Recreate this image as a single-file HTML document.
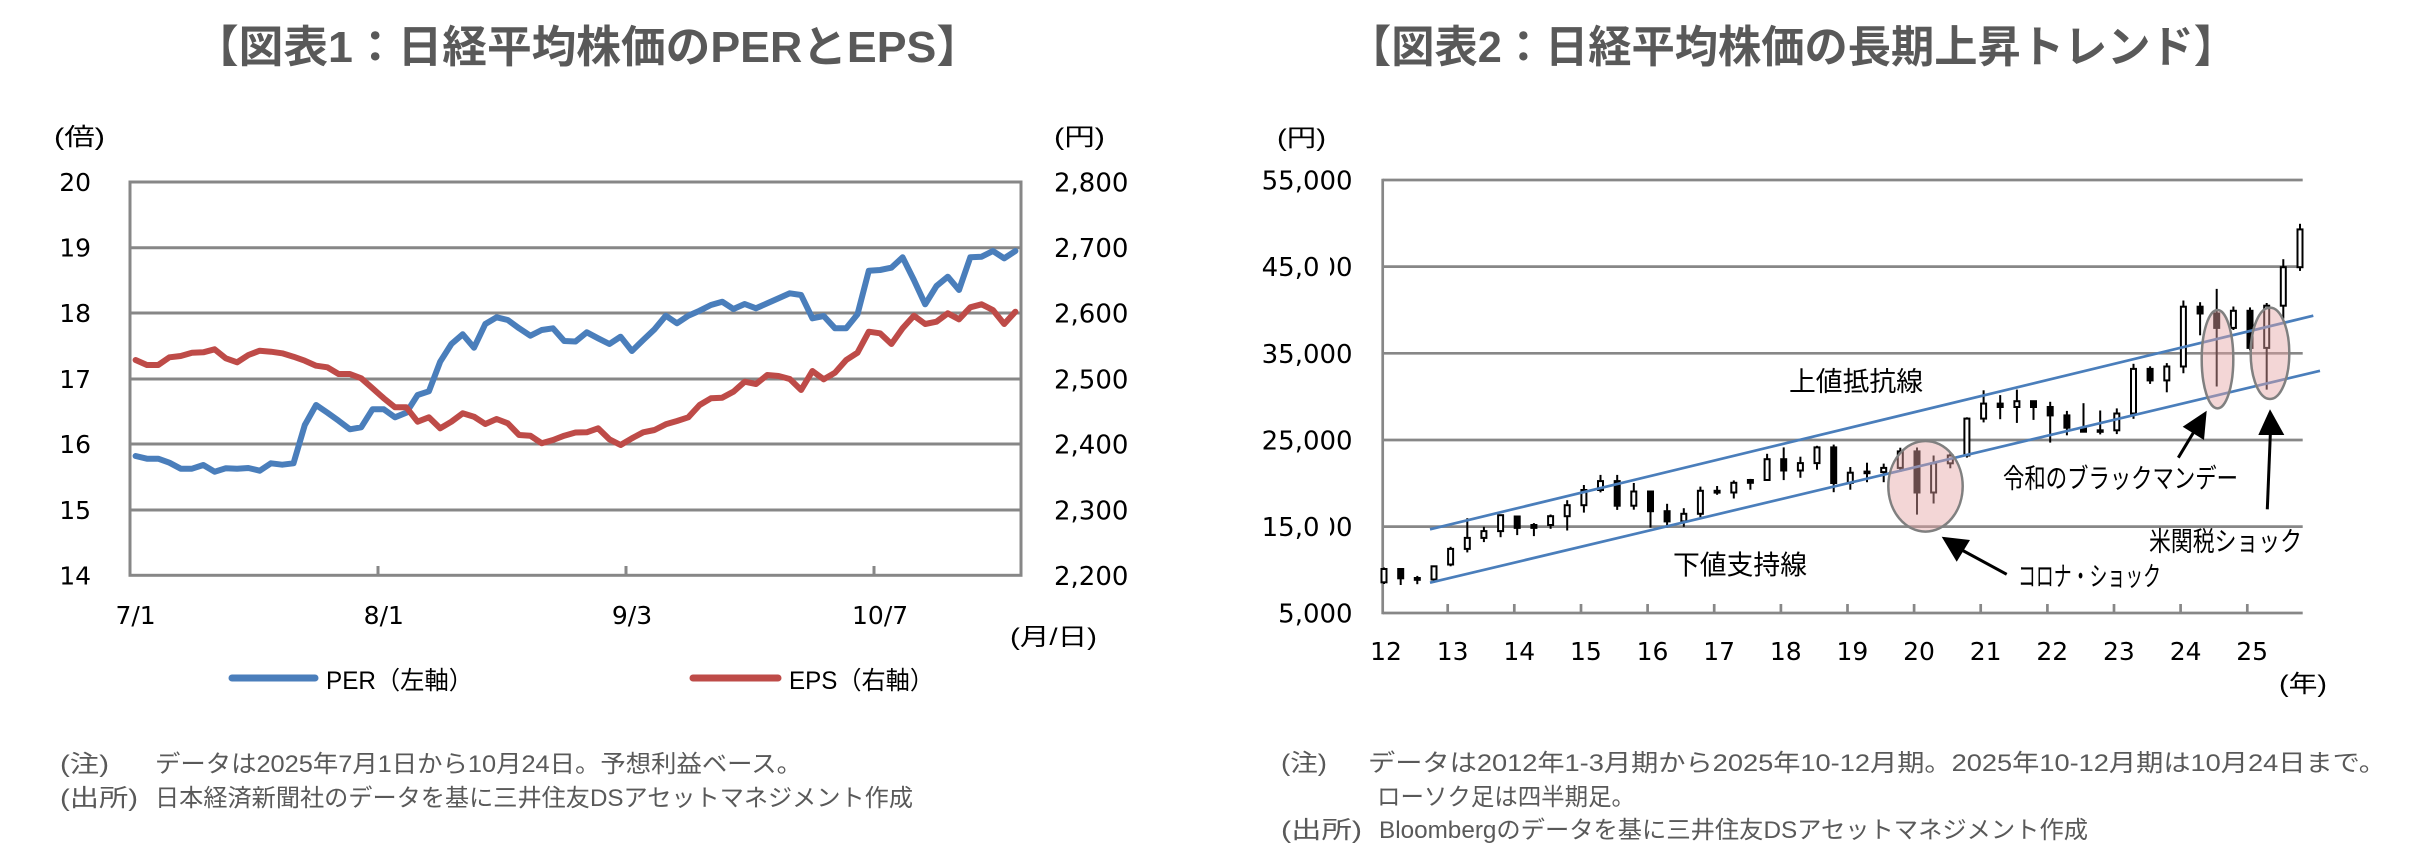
<!DOCTYPE html>
<html><head><meta charset="utf-8"><style>
html,body{margin:0;padding:0;background:#fff;overflow:hidden}
svg{display:block}
.num{font-family:"DejaVu Sans","Liberation Sans",sans-serif;fill:#000}
.jp{font-family:"Liberation Sans","Noto Sans CJK JP",sans-serif;fill:#000}
.note{font-family:"Liberation Sans","Noto Sans CJK JP",sans-serif;fill:#595959;font-size:24px}
.ttl{font-family:"Liberation Sans","Noto Sans CJK JP",sans-serif;fill:#595959;font-size:44px;font-weight:bold}
</style></head><body>
<svg width="2419" height="861" viewBox="0 0 2419 861" xmlns="http://www.w3.org/2000/svg">
<rect width="2419" height="861" fill="#fff"/>

<!-- Titles -->
<text class="ttl" x="194" y="62" textLength="787" lengthAdjust="spacingAndGlyphs">【図表1：日経平均株価のPERとEPS】</text>
<text class="ttl" x="1348" y="62" textLength="889" lengthAdjust="spacingAndGlyphs">【図表2：日経平均株価の長期上昇トレンド】</text>

<!-- ================= LEFT CHART ================= -->
<text class="jp" x="54" y="145" font-size="24" textLength="51" lengthAdjust="spacingAndGlyphs">(倍)</text>
<text class="jp" x="1054" y="145" font-size="24" textLength="51" lengthAdjust="spacingAndGlyphs">(円)</text>

<g stroke="#878787" stroke-width="3" fill="none">
<line x1="130" y1="247.7" x2="1021" y2="247.7"/>
<line x1="130" y1="313" x2="1021" y2="313"/>
<line x1="130" y1="379" x2="1021" y2="379"/>
<line x1="130" y1="444" x2="1021" y2="444"/>
<line x1="130" y1="510" x2="1021" y2="510"/>
<rect x="130" y="182" width="891" height="393.3"/>
<line x1="378" y1="566" x2="378" y2="575"/>
<line x1="626" y1="566" x2="626" y2="575"/>
<line x1="874" y1="566" x2="874" y2="575"/>
</g>

<g class="num" font-size="25" text-anchor="end">
<text x="91" y="191">20</text>
<text x="91" y="256.7">19</text>
<text x="91" y="322">18</text>
<text x="91" y="388">17</text>
<text x="91" y="453">16</text>
<text x="91" y="519">15</text>
<text x="91" y="584.3">14</text>
</g>
<g class="num" font-size="26">
<text x="1054" y="191.5">2,800</text>
<text x="1054" y="257">2,700</text>
<text x="1054" y="322.5">2,600</text>
<text x="1054" y="388.5">2,500</text>
<text x="1054" y="453.5">2,400</text>
<text x="1054" y="519.5">2,300</text>
<text x="1054" y="584.8">2,200</text>
</g>
<g class="num" font-size="25" text-anchor="middle">
<text x="135.6" y="624">7/1</text>
<text x="383.8" y="624">8/1</text>
<text x="632" y="624">9/3</text>
<text x="880.1" y="624">10/7</text>
</g>
<text class="jp" x="1010" y="645" font-size="24" textLength="87" lengthAdjust="spacingAndGlyphs">(月/日)</text>

<polyline fill="none" stroke="#4A7EBB" stroke-width="6" stroke-linejoin="round" stroke-linecap="round" points="135.6,456 146.9,458.7 158.2,458.7 169.4,462.7 180.7,468.7 192,468.7 203.3,465 214.6,471.7 225.8,468.3 237.1,468.7 248.4,468 259.7,470.7 271,463.3 282.2,464.7 293.5,463.3 304.8,425 316.1,405 327.4,412.7 338.6,420.7 349.9,429.3 361.2,427.3 372.5,409.3 383.8,409.3 395,417.3 406.3,412.7 417.6,395 428.9,391.3 440.2,361.7 451.4,344 462.7,334.3 474,347.7 485.3,324 496.6,317.3 507.8,320 519.1,328.3 530.4,335.7 541.7,330 553,328.3 564.2,341 575.5,341.5 586.8,332.3 598.1,338.3 609.4,344 620.6,336.7 631.9,351 643.2,340 654.5,329.3 665.8,315.7 677,323.3 688.3,315.7 699.6,310.7 710.9,305 722.2,301.7 733.4,309 744.7,304 756,308.3 767.3,303.3 778.6,298.3 789.8,293.3 801.1,295 812.4,318.3 823.7,316 835,328.3 846.2,328.3 857.5,314.3 868.8,270.7 880.1,270 891.4,267.7 902.6,257.3 913.9,280 925.2,304.3 936.5,286 947.8,276.7 959,290 970.3,257.3 981.6,256.7 992.9,251 1004.2,258.3 1015.4,251"/>
<polyline fill="none" stroke="#BE4B48" stroke-width="6" stroke-linejoin="round" stroke-linecap="round" points="135.6,360 146.9,365 158.2,365 169.4,357.3 180.7,356 192,352.7 203.3,352.3 214.6,349.3 225.8,358.3 237.1,362.3 248.4,355 259.7,350.7 271,351.7 282.2,353.3 293.5,356.7 304.8,360.7 316.1,365.7 327.4,367.3 338.6,374 349.9,374 361.2,378.3 372.5,388.3 383.8,398.3 395,407.3 406.3,407.3 417.6,421.7 428.9,417.3 440.2,428.3 451.4,421.7 462.7,413.3 474,416.7 485.3,424 496.6,419 507.8,423.3 519.1,435 530.4,435.7 541.7,443.3 553,440 564.2,435.7 575.5,432.5 586.8,432.3 598.1,428.3 609.4,439.3 620.6,445 631.9,438.3 643.2,432.3 654.5,430 665.8,424.3 677,421 688.3,417.3 699.6,405 710.9,398.3 722.2,397.7 733.4,391.7 744.7,381.7 756,384 767.3,375 778.6,376 789.8,379 801.1,390 812.4,371 823.7,379.3 835,372.7 846.2,360 857.5,352.7 868.8,331.7 880.1,333.3 891.4,344 902.6,328.3 913.9,315.7 925.2,324 936.5,321.7 947.8,313.3 959,319.3 970.3,307.3 981.6,304.3 992.9,310 1004.2,324 1015.4,311.7"/>

<!-- legend -->
<line x1="232" y1="678" x2="315" y2="678" stroke="#4A7EBB" stroke-width="7" stroke-linecap="round"/>
<text class="jp" x="326" y="689" font-size="25" textLength="147" lengthAdjust="spacingAndGlyphs">PER（左軸）</text>
<line x1="693" y1="678" x2="778" y2="678" stroke="#BE4B48" stroke-width="7" stroke-linecap="round"/>
<text class="jp" x="789" y="689" font-size="25" textLength="145" lengthAdjust="spacingAndGlyphs">EPS（右軸）</text>

<!-- notes left -->
<text class="note" x="60" y="772" textLength="49" lengthAdjust="spacingAndGlyphs">(注)</text>
<text class="note" x="155" y="772" textLength="647" lengthAdjust="spacingAndGlyphs">データは2025年7月1日から10月24日。予想利益ベース。</text>
<text class="note" x="60" y="806" textLength="78" lengthAdjust="spacingAndGlyphs">(出所)</text>
<text class="note" x="155" y="806" textLength="758" lengthAdjust="spacingAndGlyphs">日本経済新聞社のデータを基に三井住友DSアセットマネジメント作成</text>

<!-- ================= RIGHT CHART ================= -->
<text class="jp" x="1277" y="146" font-size="24" textLength="49" lengthAdjust="spacingAndGlyphs">(円)</text>

<g stroke="#878787" stroke-width="2.7" fill="none">
<line x1="1382.7" y1="180" x2="2302.7" y2="180"/>
<line x1="1382.7" y1="266.6" x2="2302.7" y2="266.6"/>
<line x1="1382.7" y1="353.3" x2="2302.7" y2="353.3"/>
<line x1="1382.7" y1="440" x2="2302.7" y2="440"/>
<line x1="1382.7" y1="526.6" x2="2302.7" y2="526.6"/>
<line x1="1382.7" y1="613" x2="2302.7" y2="613"/>
<line x1="1382.7" y1="178.7" x2="1382.7" y2="614.3"/>
<line x1="1447.7" y1="604" x2="1447.7" y2="613"/>
<line x1="1514.3" y1="604" x2="1514.3" y2="613"/>
<line x1="1581" y1="604" x2="1581" y2="613"/>
<line x1="1647.6" y1="604" x2="1647.6" y2="613"/>
<line x1="1714.2" y1="604" x2="1714.2" y2="613"/>
<line x1="1780.9" y1="604" x2="1780.9" y2="613"/>
<line x1="1847.5" y1="604" x2="1847.5" y2="613"/>
<line x1="1914.1" y1="604" x2="1914.1" y2="613"/>
<line x1="1980.7" y1="604" x2="1980.7" y2="613"/>
<line x1="2047.4" y1="604" x2="2047.4" y2="613"/>
<line x1="2114" y1="604" x2="2114" y2="613"/>
<line x1="2180.6" y1="604" x2="2180.6" y2="613"/>
<line x1="2247.3" y1="604" x2="2247.3" y2="613"/>
</g>

<g class="num" font-size="26" text-anchor="end">
<text x="1352.6" y="189.5">55,000</text>
<text x="1352.6" y="276">45,000</text>
<text x="1352.6" y="363">35,000</text>
<text x="1352.6" y="449.5">25,000</text>
<text x="1352.6" y="536">15,000</text>
<text x="1352.6" y="622.5">5,000</text>
</g>
<rect x="1320" y="255" width="10" height="24" fill="#fff"/>
<rect x="1320" y="515" width="10" height="24" fill="#fff"/>

<g class="num" font-size="25" text-anchor="middle">
<text x="1386" y="660">12</text>
<text x="1452.6" y="660">13</text>
<text x="1519.3" y="660">14</text>
<text x="1585.9" y="660">15</text>
<text x="1652.5" y="660">16</text>
<text x="1719.2" y="660">17</text>
<text x="1785.8" y="660">18</text>
<text x="1852.4" y="660">19</text>
<text x="1919" y="660">20</text>
<text x="1985.7" y="660">21</text>
<text x="2052.3" y="660">22</text>
<text x="2118.9" y="660">23</text>
<text x="2185.6" y="660">24</text>
<text x="2252.2" y="660">25</text>
</g>
<text class="jp" x="2279" y="692" font-size="24" textLength="48" lengthAdjust="spacingAndGlyphs">(年)</text>

<!-- candles -->
<g stroke="#000" stroke-width="2">
<line x1="1384" y1="567.5" x2="1384" y2="584"/><rect x="1381.5" y="569" width="5" height="13.3" fill="#fff"/>
<line x1="1400.7" y1="568.1" x2="1400.7" y2="585"/><rect x="1398.2" y="569" width="5" height="9.3" fill="#000"/>
<line x1="1417.3" y1="575.9" x2="1417.3" y2="584.2"/><rect x="1414.8" y="578" width="5" height="1.8" fill="#000"/>
<line x1="1434" y1="566" x2="1434" y2="582.8"/><rect x="1431.5" y="566.3" width="5" height="13.2" fill="#fff"/>
<line x1="1450.6" y1="546.8" x2="1450.6" y2="566.3"/><rect x="1448.1" y="548.9" width="5" height="15.6" fill="#fff"/>
<line x1="1467.3" y1="518.2" x2="1467.3" y2="552.4"/><rect x="1464.8" y="537.9" width="5" height="11" fill="#fff"/>
<line x1="1483.9" y1="526.8" x2="1483.9" y2="542.1"/><rect x="1481.4" y="531.1" width="5" height="6.8" fill="#fff"/>
<line x1="1500.6" y1="515" x2="1500.6" y2="537.2"/><rect x="1498.1" y="515.2" width="5" height="15.9" fill="#fff"/>
<line x1="1517.2" y1="516.3" x2="1517.2" y2="535.1"/><rect x="1514.7" y="516.5" width="5" height="11.4" fill="#000"/>
<line x1="1533.9" y1="523.1" x2="1533.9" y2="536.1"/><rect x="1531.4" y="525" width="5" height="2.9" fill="#000"/>
<line x1="1550.6" y1="514.5" x2="1550.6" y2="528.8"/><rect x="1548.1" y="516.2" width="5" height="8.8" fill="#fff"/>
<line x1="1567.2" y1="500.2" x2="1567.2" y2="530.5"/><rect x="1564.7" y="505.2" width="5" height="11" fill="#fff"/>
<line x1="1583.9" y1="485" x2="1583.9" y2="512.6"/><rect x="1581.4" y="490" width="5" height="15.2" fill="#fff"/>
<line x1="1600.5" y1="474.9" x2="1600.5" y2="492.4"/><rect x="1598" y="481.1" width="5" height="8.9" fill="#fff"/>
<line x1="1617.2" y1="474.9" x2="1617.2" y2="509.9"/><rect x="1614.7" y="481.1" width="5" height="24.6" fill="#000"/>
<line x1="1633.8" y1="483" x2="1633.8" y2="509.7"/><rect x="1631.3" y="491.5" width="5" height="14.2" fill="#fff"/>
<line x1="1650.5" y1="490.8" x2="1650.5" y2="527.6"/><rect x="1648" y="491.5" width="5" height="19.7" fill="#000"/>
<line x1="1667.1" y1="503.8" x2="1667.1" y2="527.6"/><rect x="1664.6" y="511.2" width="5" height="10.2" fill="#000"/>
<line x1="1683.8" y1="508.2" x2="1683.8" y2="526.8"/><rect x="1681.3" y="513.8" width="5" height="7.6" fill="#fff"/>
<line x1="1700.4" y1="486.6" x2="1700.4" y2="518.2"/><rect x="1697.9" y="490.8" width="5" height="23" fill="#fff"/>
<line x1="1717.1" y1="486" x2="1717.1" y2="494.8"/><rect x="1714.6" y="490.8" width="5" height="1.8" fill="#000"/>
<line x1="1733.8" y1="480.4" x2="1733.8" y2="498.5"/><rect x="1731.3" y="482.8" width="5" height="9.7" fill="#fff"/>
<line x1="1750.4" y1="478.9" x2="1750.4" y2="489.7"/><rect x="1747.9" y="480" width="5" height="2.8" fill="#000"/>
<line x1="1767.1" y1="453.8" x2="1767.1" y2="480"/><rect x="1764.6" y="459.2" width="5" height="20.8" fill="#fff"/>
<line x1="1783.7" y1="447.4" x2="1783.7" y2="480.1"/><rect x="1781.2" y="459.2" width="5" height="11.3" fill="#000"/>
<line x1="1800.4" y1="456.7" x2="1800.4" y2="477.8"/><rect x="1797.9" y="463.1" width="5" height="7.4" fill="#fff"/>
<line x1="1817" y1="445.8" x2="1817" y2="469.7"/><rect x="1814.5" y="447.4" width="5" height="15.7" fill="#fff"/>
<line x1="1833.7" y1="444.6" x2="1833.7" y2="492.2"/><rect x="1831.2" y="447.4" width="5" height="35.6" fill="#000"/>
<line x1="1850.3" y1="467" x2="1850.3" y2="489.7"/><rect x="1847.8" y="472.7" width="5" height="10.3" fill="#fff"/>
<line x1="1867" y1="462.7" x2="1867" y2="482.2"/><rect x="1864.5" y="471.6" width="5" height="1.6" fill="#000"/>
<line x1="1883.7" y1="463.6" x2="1883.7" y2="482.2"/><rect x="1881.2" y="467.9" width="5" height="4.2" fill="#fff"/>
<line x1="1900.3" y1="447.7" x2="1900.3" y2="472"/><rect x="1897.8" y="451.4" width="5" height="16.5" fill="#fff"/>
<line x1="1917" y1="447.5" x2="1917" y2="514.6"/><rect x="1914.5" y="451.4" width="5" height="41.1" fill="#000"/>
<line x1="1933.6" y1="455.5" x2="1933.6" y2="503.5"/><rect x="1931.1" y="463.3" width="5" height="29.2" fill="#fff"/>
<line x1="1950.3" y1="452.3" x2="1950.3" y2="468.3"/><rect x="1947.8" y="455.5" width="5" height="7.8" fill="#fff"/>
<line x1="1966.9" y1="417.3" x2="1966.9" y2="457.6"/><rect x="1964.4" y="418.6" width="5" height="36.9" fill="#fff"/>
<line x1="1983.6" y1="390.3" x2="1983.6" y2="422.4"/><rect x="1981.1" y="403.6" width="5" height="15" fill="#fff"/>
<line x1="2000.2" y1="395.1" x2="2000.2" y2="419.2"/><rect x="1997.7" y="403.6" width="5" height="3.4" fill="#000"/>
<line x1="2016.9" y1="389.6" x2="2016.9" y2="422.9"/><rect x="2014.4" y="401.2" width="5" height="5.8" fill="#fff"/>
<line x1="2033.5" y1="400.9" x2="2033.5" y2="419.9"/><rect x="2031" y="401.2" width="5" height="5.8" fill="#000"/>
<line x1="2050.2" y1="401.8" x2="2050.2" y2="442.6"/><rect x="2047.7" y="407" width="5" height="8.4" fill="#000"/>
<line x1="2066.9" y1="410.9" x2="2066.9" y2="435.3"/><rect x="2064.4" y="415.4" width="5" height="12.3" fill="#000"/>
<line x1="2083.5" y1="403.2" x2="2083.5" y2="431.7"/><rect x="2081" y="427.7" width="5" height="4" fill="#000"/>
<line x1="2100.2" y1="410.5" x2="2100.2" y2="434.4"/><rect x="2097.7" y="430.3" width="5" height="1.5" fill="#fff"/>
<line x1="2116.8" y1="408.4" x2="2116.8" y2="434.1"/><rect x="2114.3" y="413.5" width="5" height="16.8" fill="#fff"/>
<line x1="2133.5" y1="363.8" x2="2133.5" y2="418.8"/><rect x="2131" y="368.9" width="5" height="44.6" fill="#fff"/>
<line x1="2150.1" y1="366.3" x2="2150.1" y2="383.9"/><rect x="2147.6" y="368.9" width="5" height="11.5" fill="#000"/>
<line x1="2166.8" y1="363.1" x2="2166.8" y2="392.3"/><rect x="2164.3" y="366.5" width="5" height="13.9" fill="#fff"/>
<line x1="2183.4" y1="300.5" x2="2183.4" y2="373.2"/><rect x="2180.9" y="306.7" width="5" height="59.8" fill="#fff"/>
<line x1="2200.1" y1="302.2" x2="2200.1" y2="335.3"/><rect x="2197.6" y="306.7" width="5" height="6.8" fill="#000"/>
<line x1="2216.7" y1="288.9" x2="2216.7" y2="386.5"/><rect x="2214.2" y="313.5" width="5" height="14.4" fill="#000"/>
<line x1="2233.4" y1="306.5" x2="2233.4" y2="330"/><rect x="2230.9" y="310.8" width="5" height="17.1" fill="#fff"/>
<line x1="2250" y1="307.4" x2="2250" y2="350.3"/><rect x="2247.5" y="310.8" width="5" height="37.1" fill="#000"/>
<line x1="2266.7" y1="303" x2="2266.7" y2="389.6"/><rect x="2264.2" y="305.7" width="5" height="42.2" fill="#fff"/>
<line x1="2283.3" y1="259.2" x2="2283.3" y2="318.6"/><rect x="2280.8" y="267.2" width="5" height="38.5" fill="#fff"/>
<line x1="2300" y1="223.8" x2="2300" y2="270.9"/><rect x="2297.5" y="229.4" width="5" height="37.8" fill="#fff"/>
</g>

<!-- trend lines -->
<line x1="1430" y1="529.3" x2="2313.3" y2="315.7" stroke="#4A7EBB" stroke-width="2.7"/>
<line x1="1430" y1="582.7" x2="2320" y2="370.8" stroke="#4A7EBB" stroke-width="2.7"/>

<!-- ellipses -->
<g fill="#e4a3a3" fill-opacity="0.45" stroke="#808080" stroke-width="2.5">
<ellipse cx="1925.5" cy="486.3" rx="37.2" ry="45.3"/>
<ellipse cx="2217.5" cy="359.2" rx="15.8" ry="49.2"/>
<ellipse cx="2270" cy="353.3" rx="19.3" ry="45.7"/>
</g>

<!-- arrows -->
<g stroke="#000" stroke-width="3" fill="#000">
<line x1="2006.7" y1="574.3" x2="1960" y2="549"/>
<polygon stroke="none" points="1941.7,536.7 1970,540 1956.7,561.7"/>
<line x1="2178.3" y1="457.7" x2="2195" y2="430"/>
<polygon stroke="none" points="2206.7,410.7 2182.7,426.7 2204,440"/>
<line x1="2267.3" y1="509.3" x2="2270.5" y2="430"/>
<polygon stroke="none" points="2270,409.3 2258.3,435 2284.3,435"/>
</g>

<!-- annotations -->
<g class="jp" font-size="27">
<text x="1789" y="391" textLength="134" lengthAdjust="spacingAndGlyphs">上値抵抗線</text>
<text x="1673" y="574.5" textLength="134" lengthAdjust="spacingAndGlyphs">下値支持線</text>
<text x="2018" y="586" textLength="143" lengthAdjust="spacingAndGlyphs">コロナ・ショック</text>
<text x="2003" y="488" textLength="235" lengthAdjust="spacingAndGlyphs">令和のブラックマンデー</text>
<text x="2149" y="551" textLength="153" lengthAdjust="spacingAndGlyphs">米関税ショック</text>
</g>

<!-- notes right -->
<text class="note" x="1281" y="771" textLength="46" lengthAdjust="spacingAndGlyphs">(注)</text>
<text class="note" x="1368" y="771" textLength="1018" lengthAdjust="spacingAndGlyphs">データは2012年1-3月期から2025年10-12月期。2025年10-12月期は10月24日まで。</text>
<text class="note" x="1377" y="805" textLength="258" lengthAdjust="spacingAndGlyphs">ローソク足は四半期足。</text>
<text class="note" x="1281" y="838" textLength="81" lengthAdjust="spacingAndGlyphs">(出所)</text>
<text class="note" x="1379" y="838" textLength="709" lengthAdjust="spacingAndGlyphs">Bloombergのデータを基に三井住友DSアセットマネジメント作成</text>
</svg>
</body></html>
